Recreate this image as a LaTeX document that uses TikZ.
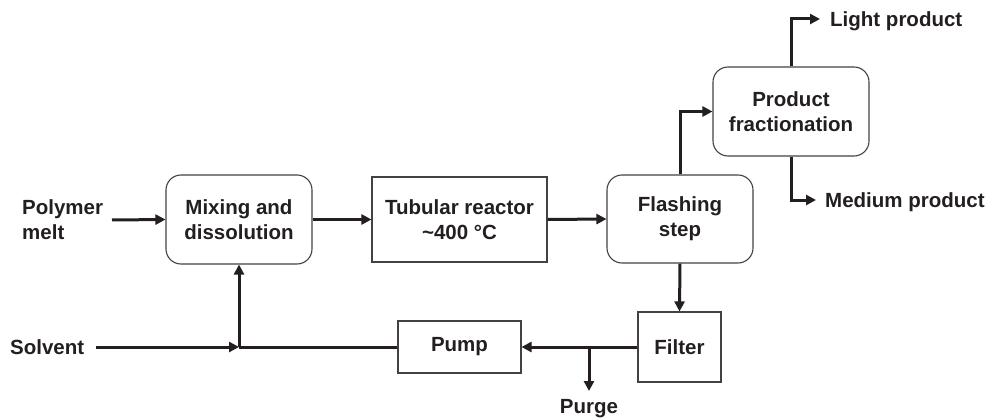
\documentclass[tikz,border=0pt]{standalone}
\usepackage{fontspec}
\setmainfont{Liberation Sans}
\usetikzlibrary{arrows.meta}
\definecolor{ink}{HTML}{231F20}
\begin{document}
\begin{tikzpicture}[x=1pt,y=-1pt,
  box/.style={draw=ink!85, line width=1.1pt, align=center, inner sep=0pt, text=ink,
    font=\fontsize{20.5}{25}\selectfont\bfseries},
  rbox/.style={box, rounded corners=15pt},
  lbl/.style={inner sep=0pt, text=ink, font=\fontsize{20.5}{25}\selectfont\bfseries},
  flow/.style={line width=3pt, draw=ink, -{Triangle[length=10pt,width=10pt]}},
  pipe/.style={line width=3pt, draw=ink}]
\useasboundingbox (0,0) rectangle (991,420);

\node[rbox, minimum width=146pt, minimum height=89pt] (mix) at (239,219.5) {Mixing and\\dissolution};
\node[box, minimum width=175pt, minimum height=85pt] (tub) at (459.5,219.5) {Tubular reactor\\\textasciitilde400 °C};
\node[rbox, minimum width=146pt, minimum height=88pt] (flash) at (680,219) {Flashing\\step};
\node[rbox, minimum width=156pt, minimum height=89pt] (frac) at (791,111.5) {Product\\fractionation};
\node[box, minimum width=83pt, minimum height=70pt] (filt) at (679.5,347) {Filter};
\node[box, minimum width=123pt, minimum height=52pt] (pump) at (459.5,347) {Pump};

\node[lbl, anchor=west, align=left] (pm) at (22,220) {Polymer\\melt};
\node[lbl, anchor=west] (solv) at (10,347) {Solvent};
\node[lbl, anchor=west] (light) at (830,21) {Light product};
\node[lbl, anchor=west] (med) at (825,202) {Medium product};
\node[lbl, anchor=center] (purge) at (589,409) {Purge};

\coordinate (pmout) at (112,220);
\coordinate (solvout) at (96,347);
\coordinate (junc) at (239,347);
\coordinate (lpend) at (820,19);
\coordinate (mpend) at (816,200);
\coordinate (ptee) at (589,347);
\coordinate (pend) at (589,391);

\draw[flow] (pmout) -- (mix.west);
\draw[flow] (mix.east) -- (tub.west);
\draw[flow] (tub.east) -- (flash.west);
\draw[flow] (flash.north) |- (frac.west);
\draw[flow] (frac.north) |- (lpend);
\draw[flow] (frac.south) |- (mpend);
\draw[flow] (flash.south) -- (filt.north);
\draw[flow] (filt.west) -- (pump.east);
\draw[flow] (ptee) -- (pend);
\draw[pipe] (pump.west) -- (junc);
\draw[flow] (solvout) -- (junc);
\draw[flow] (junc) -- (mix.south);
\end{tikzpicture}
\end{document}
